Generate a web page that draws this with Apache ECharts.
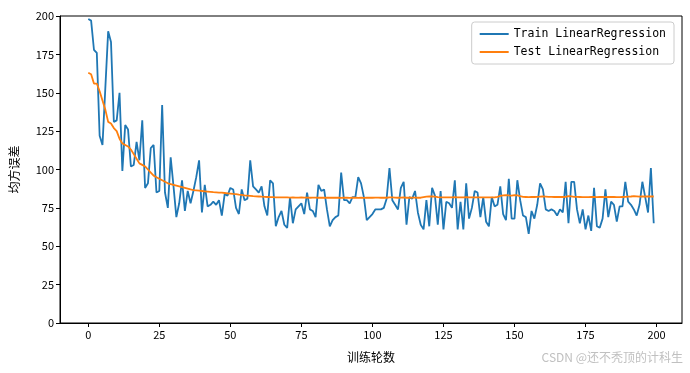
<!DOCTYPE html>
<html><head><meta charset="utf-8">
<script src="https://cdn.jsdelivr.net/npm/echarts@6/dist/echarts.min.js"></script>
<style>html,body{margin:0;padding:0;background:#fff}#c{width:690px;height:373px}</style>
</head><body><div id="c"></div>
<script>
const xTicks = [0, 25, 50, 75, 100, 125, 150, 175, 200];
const yTicks = [0, 25, 50, 75, 100, 125, 150, 175, 200];
const trainLoss = [
198,197,178,176,122,116,153,190,183,131,
132,150,99,129,126,102,103,118,106,132,
88,91,114,116,85,86,142,85,75,108,
89,69,78,93,73,86,78,86,95,106,
72,90,76,77,79,77,80,70,84,83,
88,87,75,71,87,80,81,106,89,87,
85,89,76,70,93,91,63,69,73,64,
62,82,65,74,76,78,71,85,74,73,
69,90,86,87,74,63,67,69,70,98,
80,80,78,82,82,95,91,82,67,69,
71,74,74,74,75,81,101,80,77,74,
88,92,64,82,81,86,72,64,61,80,
63,88,83,64,86,61,79,78,75,93,
61,79,61,91,68,75,86,85,69,82,
66,63,82,76,77,89,71,67,94,68,
68,93,80,70,69,58,73,68,77,91,
87,74,73,74,73,70,74,72,92,65,
92,92,74,65,74,61,70,60,88,63,
62,68,87,69,79,77,66,76,76,92,
79,77,74,70,77,92,82,72,101,65
];
const testLoss = [
163,162,156,156,151,145,139,131,130,127,
125,120,117,116,115,113,110,107,104,103,
102,100,98,96,95,94,93,92,91,90.5,
90,89.5,89,88.5,88,87.5,87,86.6,86.4,86.2,
86,85.8,85.6,85.4,85.2,85.1,85,84.9,84.7,84.5,
84.3,84.1,84,83.7,83.5,83.2,83,82.8,82.6,82.5,
82.4,82.3,82.2,82.1,82,82,81.9,81.9,81.8,81.8,
81.8,81.7,81.8,81.7,81.7,81.8,81.7,81.7,81.6,81.7,
81.7,81.6,81.7,81.6,81.6,81.6,81.7,81.6,81.6,81.5,
81.6,81.6,81.5,81.6,81.6,81.5,81.6,81.5,81.6,81.6,
81.6,81.7,81.7,81.6,81.6,81.6,81.9,81.8,81.7,81.6,
81.7,81.8,81.6,81.6,81.7,81.7,81.6,81.6,82.0,82.3,
82.4,82.5,82.3,82.0,81.9,81.8,81.8,81.9,81.8,82.0,
81.9,81.8,81.9,82.0,81.9,81.8,81.9,81.9,81.8,81.9,
81.9,81.8,81.9,81.9,82.2,82.8,83.2,83.3,83.1,83.0,
83.3,83.1,82.6,82.2,82.1,82.0,82.1,82.1,82.2,82.3,
82.4,82.3,82.2,82.2,82.1,82.1,82.2,82.1,82.2,82.6,
82.5,82.2,82.2,82.1,82.0,82.0,82.0,82.1,82.1,82.0,
82.1,82.1,82.0,82.1,82.2,82.1,82.0,82.0,82.1,82.2,
82.3,82.4,82.6,82.5,82.3,82.4,82.4,82.5,82.4,82.4
];
const seriesNames = ['Train LinearRegression', 'Test LinearRegression'];
const xName = '训练轮数';
const yName = '均方误差';
const watermark = 'CSDN @还不秃顶的计科生';

const toPairs = arr => arr.map((v, i) => [i, v]);
const font = '"Noto Sans CJK SC", "DejaVu Sans", sans-serif';
const chart = echarts.init(document.getElementById('c'), null, {renderer: 'canvas'});
chart.setOption({
  animation: false,
  backgroundColor: '#fff',
  grid: {left: 60, right: 8, top: 16, bottom: 50, show: true, borderColor: '#000', borderWidth: 1, containLabel: false},
  xAxis: {
    type: 'value', min: -9.95, max: 208.95,
    name: xName, nameLocation: 'middle', nameGap: 28,
    nameTextStyle: {color: '#000', fontSize: 12, fontFamily: font},
    axisLine: {show: true, onZero: false, lineStyle: {color: '#000', width: 1}},
    axisTick: {show: true, inside: false, length: 4, customValues: xTicks, lineStyle: {color: '#000'}},
    axisLabel: {color: '#000', fontSize: 11, fontFamily: font, margin: 6, customValues: xTicks},
    splitLine: {show: false}
  },
  yAxis: {
    type: 'value', min: 0, max: 200, interval: 25,
    name: yName, nameLocation: 'middle', nameGap: 40,
    nameTextStyle: {color: '#000', fontSize: 12, fontFamily: font},
    axisLine: {show: true, onZero: false, lineStyle: {color: '#000', width: 1}},
    axisTick: {show: true, inside: false, length: 4, lineStyle: {color: '#000'}},
    axisLabel: {color: '#000', fontSize: 11, fontFamily: font, margin: 6},
    splitLine: {show: false}
  },
  legend: {
    orient: 'vertical', right: 16, top: 22,
    padding: [6, 8, 6, 8], itemGap: 6,
    itemWidth: 29, itemHeight: 12,
    borderColor: '#cccccc', borderWidth: 1, borderRadius: 3,
    backgroundColor: 'rgba(255,255,255,0.8)',
    textStyle: {color: '#000', fontSize: 11.5, fontFamily: '"DejaVu Sans Mono", monospace'},
    icon: 'path://M0,5 L29,5 L29,7 L0,7 Z',
    data: seriesNames
  },
  series: [
    {name: seriesNames[0], type: 'line', data: toPairs(trainLoss), symbol: 'none', showSymbol: false, color: '#1f77b4',
     lineStyle: {width: 1.8, color: '#1f77b4'}, z: 2},
    {name: seriesNames[1], type: 'line', data: toPairs(testLoss), symbol: 'none', showSymbol: false, color: '#ff7f0e',
     lineStyle: {width: 1.8, color: '#ff7f0e'}, z: 3}
  ],
  graphic: [{
    type: 'text', right: 7, top: 351,
    style: {text: watermark, fill: '#c0c0c0', fontSize: 12, fontFamily: font}
  }]
});
</script></body></html>
